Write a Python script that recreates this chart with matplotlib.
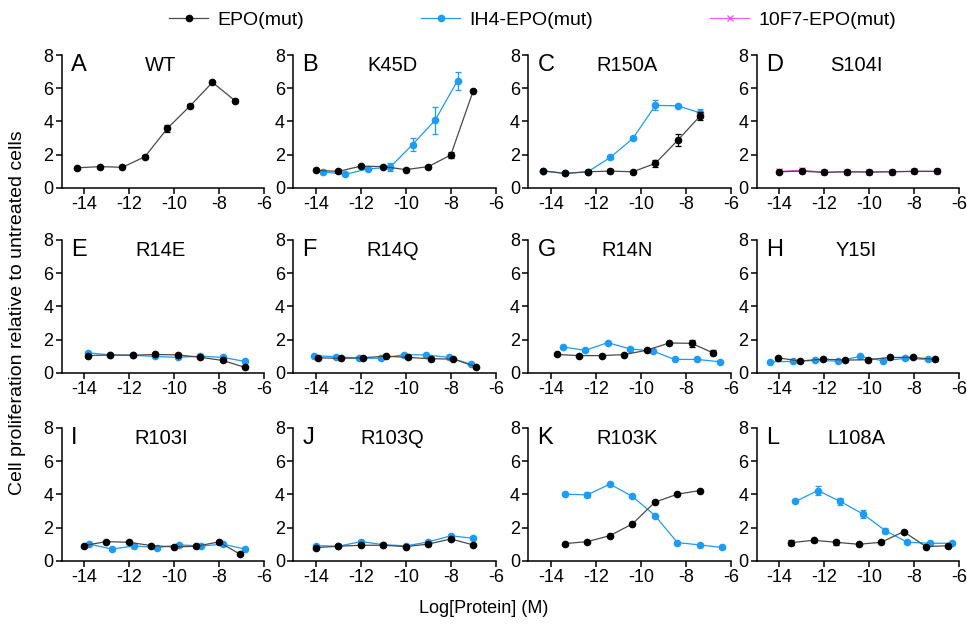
import matplotlib
matplotlib.use("Agg")
import matplotlib.pyplot as plt
from matplotlib.lines import Line2D

plt.rcParams["font.family"] = ["Liberation Sans", "DejaVu Sans"]
plt.rcParams["axes.unicode_minus"] = False

letters = ["A", "B", "C", "D", "E", "F", "G", "H", "I", "J", "K", "L"]
titles = ["WT", "K45D", "R150A", "S104I", "R14E", "R14Q", "R14N", "Y15I",
          "R103I", "R103Q", "R103K", "L108A"]

# EPO(mut) series, one list per panel
epo_x = [
    [-14.3, -13.3, -12.3, -11.3, -10.3, -9.3, -8.3, -7.3],
    [-14.0, -13.0, -12.0, -11.0, -10.0, -9.0, -8.0, -7.0],
    [-14.35, -13.35, -12.35, -11.35, -10.35, -9.35, -8.35, -7.35],
    [-14.0, -13.0, -12.0, -11.0, -10.0, -9.0, -8.0, -7.0],
    [-13.85, -12.85, -11.85, -10.85, -9.85, -8.85, -7.85, -6.85],
    [-13.88, -12.88, -11.88, -10.88, -9.88, -8.88, -7.88, -6.88],
    [-13.74, -12.74, -11.74, -10.74, -9.74, -8.74, -7.74, -6.8],
    [-14.07, -13.07, -12.07, -11.07, -10.07, -9.07, -8.07, -7.07],
    [-14.02, -13.02, -12.02, -11.02, -10.02, -9.02, -8.02, -7.08],
    [-14.0, -13.0, -12.0, -11.0, -10.0, -9.0, -8.0, -7.0],
    [-13.37, -12.37, -11.37, -10.37, -9.37, -8.37, -7.37],
    [-13.47, -12.47, -11.47, -10.47, -9.47, -8.47, -7.47, -6.5],
]
epo_y = [
    [1.2, 1.27, 1.23, 1.87, 3.58, 4.92, 6.35, 5.25],
    [1.05, 0.98, 1.3, 1.27, 1.09, 1.27, 1.97, 5.85],
    [1.02, 0.86, 0.96, 1.0, 0.96, 1.47, 2.87, 4.34],
    [0.96, 1.0, 0.92, 0.96, 0.94, 0.96, 0.98, 0.98],
    [1.03, 1.07, 1.05, 1.1, 1.07, 0.93, 0.74, 0.32],
    [0.9, 0.86, 0.9, 1.0, 0.92, 0.84, 0.82, 0.36],
    [1.1, 1.03, 1.03, 1.09, 1.35, 1.79, 1.77, 1.2],
    [0.9, 0.7, 0.82, 0.76, 0.78, 0.92, 0.92, 0.8],
    [0.91, 1.15, 1.11, 0.91, 0.83, 0.87, 1.13, 0.4],
    [0.79, 0.87, 0.93, 0.93, 0.85, 1.0, 1.31, 0.95],
    [1.03, 1.15, 1.51, 2.22, 3.53, 4.01, 4.23],
    [1.09, 1.23, 1.11, 0.99, 1.11, 1.75, 0.85, 0.9],
]
epo_err = [
    [0.05, 0.05, 0.05, 0.08, 0.2, 0.1, 0.1, 0.1],
    [0.05, 0.05, 0.05, 0.05, 0.05, 0.05, 0.2, 0.05],
    [0.05, 0.05, 0.1, 0.12, 0.05, 0.2, 0.35, 0.25],
    [0.05, 0.05, 0.05, 0.05, 0.05, 0.05, 0.05, 0.05],
    [0.05, 0.05, 0.05, 0.05, 0.05, 0.05, 0.05, 0.05],
    [0.05, 0.05, 0.05, 0.05, 0.05, 0.05, 0.05, 0.05],
    [0.05, 0.05, 0.05, 0.05, 0.05, 0.05, 0.2, 0.15],
    [0.05, 0.05, 0.05, 0.05, 0.05, 0.05, 0.05, 0.05],
    [0.05, 0.05, 0.05, 0.05, 0.05, 0.05, 0.05, 0.05],
    [0.05, 0.05, 0.05, 0.05, 0.05, 0.05, 0.05, 0.05],
    [0.05, 0.05, 0.05, 0.05, 0.05, 0.05, 0.05],
    [0.15, 0.1, 0.15, 0.05, 0.05, 0.05, 0.05, 0.05],
]

# IH4-EPO(mut) series (None where the panel has none)
ih4_x = [
    None,
    [-13.7, -12.7, -11.7, -10.7, -9.7, -8.7, -7.7],
    [-14.35, -13.35, -12.35, -11.35, -10.35, -9.35, -8.35, -7.35],
    None,
    [-13.85, -12.85, -11.85, -10.85, -9.85, -8.85, -7.85, -6.85],
    [-14.08, -13.08, -12.08, -11.08, -10.08, -9.08, -8.08, -7.1],
    [-13.47, -12.47, -11.47, -10.47, -9.47, -8.5, -7.5, -6.5],
    [-14.4, -13.4, -12.4, -11.4, -10.4, -9.4, -8.4, -7.4],
    [-13.77, -12.77, -11.77, -10.77, -9.77, -8.8, -7.82, -6.85],
    [-14.0, -13.0, -12.0, -11.0, -10.0, -9.0, -8.0, -7.0],
    [-13.37, -12.37, -11.37, -10.37, -9.37, -8.37, -7.37, -6.4],
    [-13.28, -12.28, -11.28, -10.28, -9.28, -8.3, -7.3, -6.3],
]
ih4_y = [
    None,
    [0.96, 0.8, 1.13, 1.23, 2.6, 4.06, 6.45],
    [1.0, 0.86, 0.96, 1.83, 2.97, 4.96, 4.94, 4.5],
    None,
    [1.2, 1.07, 1.05, 0.98, 0.92, 1.0, 0.92, 0.68],
    [1.03, 0.96, 0.88, 0.86, 1.09, 1.07, 0.92, 0.5],
    [1.55, 1.35, 1.81, 1.43, 1.31, 0.8, 0.8, 0.66],
    [0.66, 0.68, 0.74, 0.7, 0.98, 0.72, 0.86, 0.8],
    [1.0, 0.7, 0.89, 0.79, 0.95, 0.89, 0.99, 0.7],
    [0.91, 0.87, 1.15, 0.97, 0.89, 1.13, 1.5, 1.35],
    [4.01, 3.97, 4.62, 3.87, 2.72, 1.09, 0.95, 0.8],
    [3.57, 4.23, 3.57, 2.82, 1.81, 1.11, 1.05, 1.05],
]
ih4_err = [
    None,
    [0.12, 0.05, 0.08, 0.25, 0.4, 0.8, 0.55],
    [0.05, 0.05, 0.05, 0.12, 0.05, 0.3, 0.05, 0.25],
    None,
    [0.05, 0.05, 0.05, 0.05, 0.05, 0.05, 0.05, 0.05],
    [0.05, 0.05, 0.05, 0.05, 0.05, 0.05, 0.05, 0.05],
    [0.05, 0.05, 0.05, 0.05, 0.05, 0.05, 0.05, 0.05],
    [0.05, 0.05, 0.05, 0.05, 0.05, 0.05, 0.05, 0.05],
    [0.05, 0.05, 0.05, 0.05, 0.05, 0.05, 0.05, 0.05],
    [0.05, 0.05, 0.05, 0.05, 0.05, 0.05, 0.05, 0.05],
    [0.05, 0.15, 0.05, 0.05, 0.05, 0.05, 0.05, 0.05],
    [0.05, 0.25, 0.2, 0.25, 0.15, 0.05, 0.05, 0.05],
]

# 10F7-EPO(mut), only in panel D
f7_x = [-14.0, -13.0, -12.0, -11.0, -10.0, -9.0, -8.0, -7.0]
f7_y = [0.98, 1.05, 0.93, 0.97, 0.95, 0.97, 0.99, 1.0]
f7_err = [0.05, 0.1, 0.05, 0.05, 0.05, 0.05, 0.05, 0.05]

c_epo = "black"
c_epo_line = "#4a4a4a"
c_ih4 = "#1e9bf5"
c_f7 = "#f25cf0"

fig = plt.figure(figsize=(9.67, 6.25), dpi=100)

lefts = [0.0638, 0.3033, 0.5463, 0.7825]
bottoms = [0.6997, 0.4037, 0.1029]
w, h = 0.2094, 0.2123

for i in range(12):
    r, c = divmod(i, 4)
    ax = fig.add_axes([lefts[c], bottoms[r], w, h])

    if ih4_x[i] is not None:
        ax.errorbar(ih4_x[i], ih4_y[i], yerr=ih4_err[i], color=c_ih4,
                    marker="o", ms=4.5, lw=0.9, elinewidth=0.9, capsize=2.5,
                    capthick=0.9, zorder=3)
    if i == 3:
        ax.errorbar(f7_x, f7_y, yerr=f7_err, color=c_f7, marker="x", ms=5,
                    lw=0.9, elinewidth=0.9, capsize=2.5, capthick=0.9,
                    zorder=3)
    ax.errorbar(epo_x[i], epo_y[i], yerr=epo_err[i], color=c_epo_line,
                mfc=c_epo, mec=c_epo, ecolor=c_epo, marker="o", ms=4.5,
                lw=0.9, elinewidth=0.9, capsize=2.5, capthick=0.9, zorder=4)

    ax.set_xlim(-15, -6)
    ax.set_ylim(0, 8)
    ax.set_xticks([-14, -12, -10, -8, -6])
    ax.set_yticks([0, 2, 4, 6, 8])
    for s in ["top", "right"]:
        ax.spines[s].set_visible(False)
    for s in ["left", "bottom"]:
        ax.spines[s].set_linewidth(1.1)
    ax.tick_params(labelsize=13, width=1.1, length=4, pad=2)

    ax.text(0.045, 1.01, letters[i], transform=ax.transAxes, fontsize=17,
            ha="left", va="top")
    ax.text(0.49, 0.995, titles[i], transform=ax.transAxes, fontsize=14.5,
            ha="center", va="top")

fig.text(0.018, 0.5, "Cell proliferation relative to untreated cells",
         rotation=90, ha="center", va="center", fontsize=14)
fig.text(0.5, 0.027, "Log[Protein] (M)", ha="center", va="center",
         fontsize=13)

handles = [
    Line2D([], [], color=c_epo_line, mfc=c_epo, mec=c_epo, marker="o", ms=4.5, lw=0.9),
    Line2D([], [], color=c_ih4, marker="o", ms=4.5, lw=0.9),
    Line2D([], [], color=c_f7, marker="x", ms=5, lw=0.9),
]
fig.legend(handles, ["EPO(mut)", "IH4-EPO(mut)", "10F7-EPO(mut)"],
           loc="upper center", bbox_to_anchor=(0.551, 1.01), ncol=3,
           frameon=False, fontsize=14, handlelength=2, handletextpad=0.5,
           columnspacing=6.0)

fig.savefig("out.png", dpi=100)
